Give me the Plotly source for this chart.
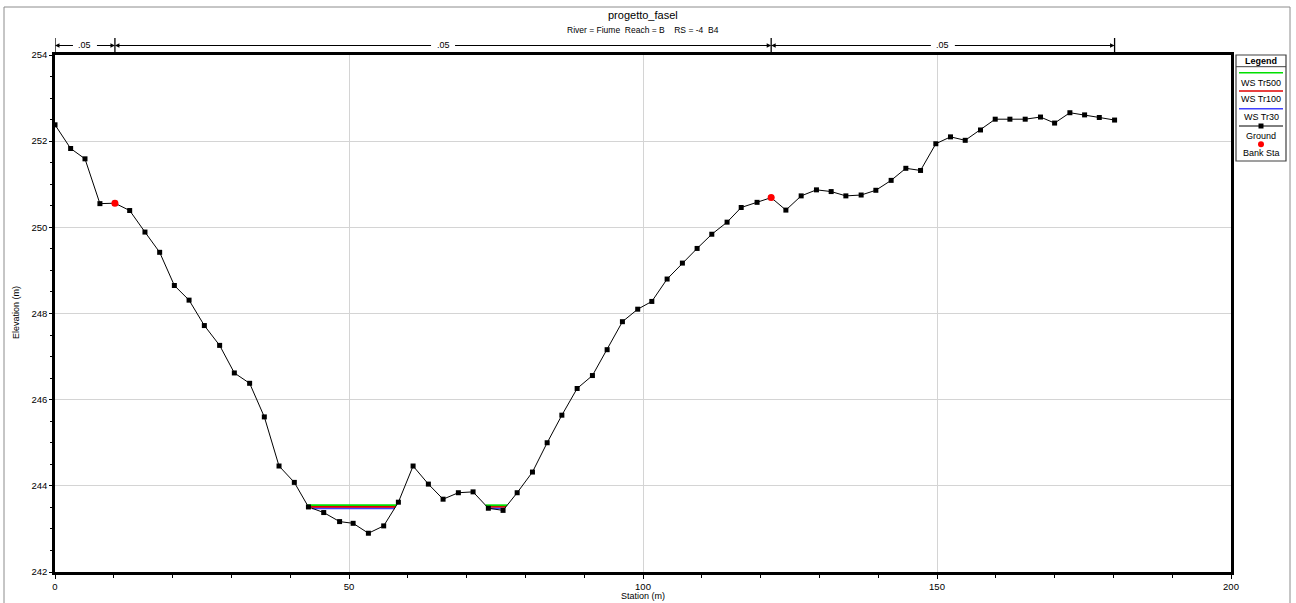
import plotly.graph_objects as go

# ---------------- data ----------------
station = [0, 2.66, 5.1, 7.64, 10.19, 12.7, 15.3, 17.8, 20.3, 22.8,
           25.4, 28.0, 30.5, 33.1, 35.6, 38.1, 40.7, 43.1, 45.7, 48.4,
           50.7, 53.3, 55.9, 58.4, 60.9, 63.5, 66.0, 68.6, 71.1, 73.7,
           76.2, 78.6, 81.2, 83.7, 86.2, 88.8, 91.4, 93.9, 96.5, 99.1,
           101.5, 104.1, 106.7, 109.2, 111.7, 114.3, 116.7, 119.4, 121.8, 124.3,
           126.9, 129.5, 132.0, 134.5, 137.1, 139.6, 142.2, 144.7, 147.2, 149.8,
           152.3, 154.8, 157.4, 159.9, 162.4, 165.0, 167.6, 170.0, 172.6, 175.1,
           177.6, 180.2]
elevation = [252.38, 251.83, 251.59, 250.55, 250.56, 250.39, 249.89, 249.42, 248.65, 248.31,
             247.72, 247.26, 246.62, 246.38, 245.60, 244.46, 244.08, 243.51, 243.38, 243.17,
             243.13, 242.90, 243.07, 243.62, 244.46, 244.04, 243.69, 243.84, 243.86, 243.48,
             243.43, 243.84, 244.32, 245.00, 245.64, 246.26, 246.56, 247.16, 247.81, 248.10,
             248.28, 248.80, 249.17, 249.51, 249.84, 250.12, 250.46, 250.58, 250.69, 250.40,
             250.73, 250.87, 250.83, 250.73, 250.75, 250.86, 251.09, 251.37, 251.32, 251.94,
             252.10, 252.02, 252.26, 252.51, 252.51, 252.51, 252.56, 252.42, 252.66, 252.61,
             252.55, 252.49]
bank_station = [10.19, 121.8]
bank_elev = [250.56, 250.69]

ws_names = ["WS Tr500", "WS Tr100", "WS Tr30"]
ws_elev = [243.55, 243.515, 243.48]
ws_colors = ["#00e000", "#e00000", "#4040ff"]

n_values = [".05", ".05", ".05"]
n_bounds = [0, 10.19, 121.8, 180.2]

title = "progetto_fasel"
subtitle = "River\u00a0=\u00a0Fiume\u00a0\u00a0Reach\u00a0=\u00a0B\u00a0\u00a0\u00a0\u00a0RS\u00a0=\u00a0-4\u00a0\u00a0B4"


def ws_segments(ws):
    xs, ys = [], []
    for i in range(1, len(station)):
        xp, zp = station[i - 1], elevation[i - 1]
        x, z = station[i], elevation[i]
        wet_prev, wet = zp < ws, z < ws
        if wet_prev != wet:
            xi = xp + (ws - zp) / (z - zp) * (x - xp)
            xs.append(xi); ys.append(ws)
            if not wet:
                xs.append(None); ys.append(None)
    return xs, ys


fig = go.Figure()
for name, ws, col in reversed(list(zip(ws_names, ws_elev, ws_colors))):
    xs, ys = ws_segments(ws)
    fig.add_trace(go.Scatter(x=xs, y=ys, mode="lines", line=dict(color=col, width=1.8),
                             name=name, showlegend=False, hoverinfo="skip"))

fig.add_trace(go.Scatter(x=station, y=elevation, mode="lines+markers",
                         line=dict(color="black", width=1),
                         marker=dict(symbol="square", size=5, color="black"),
                         name="Ground", showlegend=False))
fig.add_trace(go.Scatter(x=bank_station, y=bank_elev, mode="markers",
                         marker=dict(symbol="circle", size=7, color="#ff0000"),
                         name="Bank Sta", showlegend=False))

# plot geometry in pixels
L, R, T, B = 55, 1231, 55, 572
W, H = 1296, 603
def px(xp):
    return (xp - L) / (R - L)
def py(yp):
    return (B - yp) / (B - T)

shapes = []
annotations = []
FONT = "Liberation Sans, Arial, sans-serif"

def text_ann(x, y, text, size=9, xref="paper", **kw):
    d = dict(x=x, y=y, xref=xref, yref="paper", text=text, showarrow=False,
             xanchor="center", yanchor="middle",
             font=dict(family=FONT, size=size, color="black"))
    d.update(kw)
    annotations.append(d)

# outer frame
shapes.append(dict(type="rect", xref="paper", yref="paper", x0=px(4), x1=px(1290),
                   y0=py(640), y1=py(7), line=dict(color="#8c8c8c", width=1), layer="below"))

# Manning's n bars
ybar = py(45.5)
for i, n in enumerate(n_values):
    a, b = n_bounds[i], n_bounds[i + 1]
    mid = (a + b) / 2
    gap = 10.5 / ((R - L) / 200.0)
    text_ann(mid, ybar, n, size=9, xref="x")
    for end, tail in ((a, mid - gap), (b, mid + gap)):
        annotations.append(dict(x=end, y=ybar, xref="x", yref="paper", ax=tail, ay=0,
                                axref="x", ayref="pixel", text="", showarrow=True,
                                arrowhead=2, arrowsize=0.9, arrowwidth=1, arrowcolor="black",
                                standoff=0, startstandoff=0))
for xb in n_bounds:
    shapes.append(dict(type="line", xref="x", yref="paper", x0=xb, x1=xb,
                       y0=py(54), y1=py(38), line=dict(color="black", width=1.3)))

# titles
text_ann(0.5, py(15), title, size=11)
text_ann(0.5, py(30), subtitle, size=8.5)
text_ann(px(16), py(313), "Elevation (m)", size=9, textangle=-90)
text_ann(px(643), py(596), "Station (m)", size=9)

# custom legend
lx0, lx1 = px(1236), px(1286)
shapes.append(dict(type="rect", xref="paper", yref="paper", x0=lx0, x1=lx1, y0=py(161), y1=py(55),
                   line=dict(color="#404040", width=1.2), fillcolor="white"))
shapes.append(dict(type="line", xref="paper", yref="paper", x0=lx0, x1=lx1, y0=py(66.7), y1=py(66.7),
                   line=dict(color="#404040", width=1)))
lc = px(1261)
text_ann(lc, py(61), "<b>Legend</b>", size=9)
leg_line_y = [72.7, 91, 108.7]
leg_text_y = [82.7, 99.3, 117.3]
for name, col, yl, yt in zip(ws_names, ws_colors, leg_line_y, leg_text_y):
    shapes.append(dict(type="line", xref="paper", yref="paper", x0=px(1239), x1=px(1283),
                       y0=py(yl), y1=py(yl), line=dict(color=col, width=1.5)))
    text_ann(lc, py(yt), name, size=9)
shapes.append(dict(type="line", xref="paper", yref="paper", x0=px(1239), x1=px(1283),
                   y0=py(126), y1=py(126), line=dict(color="black", width=1)))
shapes.append(dict(type="rect", xref="paper", yref="paper", xsizemode="pixel", ysizemode="pixel",
                   xanchor=lc, yanchor=py(126), x0=-2.5, x1=2.5, y0=-2.5, y1=2.5,
                   fillcolor="black", line=dict(width=0)))
text_ann(lc, py(135.7), "Ground", size=9)
shapes.append(dict(type="circle", xref="paper", yref="paper", xsizemode="pixel", ysizemode="pixel",
                   xanchor=lc, yanchor=py(144.3), x0=-3, x1=3, y0=-3, y1=3,
                   fillcolor="#ff0000", line=dict(width=0)))
text_ann(lc, py(153.3), "Bank Sta", size=9)

fig.update_layout(
    width=W, height=H,
    margin=dict(l=L, r=W - R, t=T, b=H - B, pad=0),
    paper_bgcolor="white", plot_bgcolor="white",
    font=dict(family=FONT, size=10, color="black"),
    shapes=shapes, annotations=annotations, showlegend=False,
    xaxis=dict(range=[0, 200], dtick=50, tick0=0, showgrid=True, gridcolor="#d4d4d4", gridwidth=1,
               showline=True, linecolor="black", linewidth=2.5, mirror=True,
               ticks="outside", ticklen=4, tickcolor="black", tickwidth=1,
               minor=dict(dtick=10, ticks="outside", ticklen=3, tickcolor="black", showgrid=False),
               zeroline=False, tickfont=dict(family=FONT, size=9.5, color="black")),
    yaxis=dict(range=[242, 254], dtick=2, tick0=242, showgrid=True, gridcolor="#d4d4d4", gridwidth=1,
               showline=True, linecolor="black", linewidth=2.5, mirror=True,
               ticks="outside", ticklen=3, tickcolor="black", tickwidth=1,
               minor=dict(dtick=0.5, ticks="outside", ticklen=2, tickcolor="black", showgrid=False),
               zeroline=False, tickfont=dict(family=FONT, size=9.5, color="black")),
)

fig.write_html("out.html")
